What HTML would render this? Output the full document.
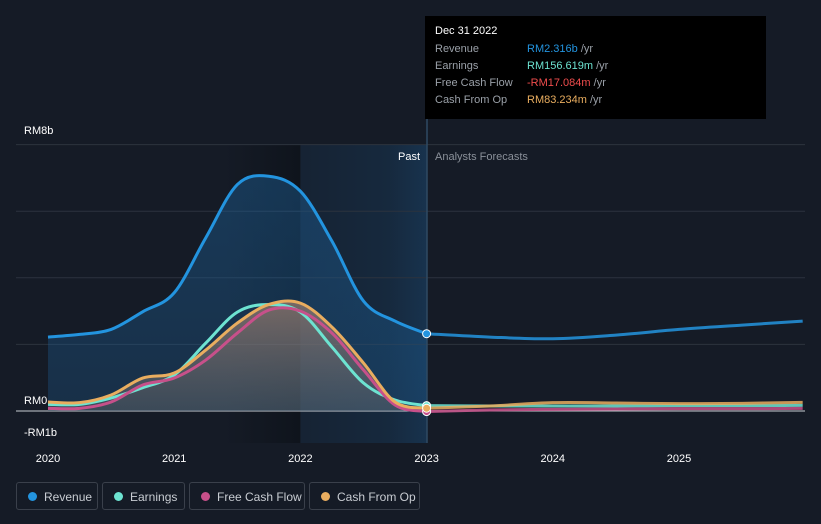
<!DOCTYPE html>
<html><head><meta charset="utf-8"><style>
body{margin:0;background:#151b26;width:821px;height:524px;overflow:hidden;font-family:"Liberation Sans",sans-serif}
.leg{position:absolute;top:482px;height:28px;border:1px solid #3a404b;border-radius:3px;color:#c8ccd2;font-size:12px;line-height:28px;box-sizing:border-box;padding-left:27px}
.leg i{position:absolute;left:11px;top:9px;width:9px;height:9px;border-radius:50%}
</style></head><body>
<svg id="c" width="821" height="524" style="position:absolute;left:0;top:0"></svg>
<div class="leg" style="left:16px;width:82px"><i style="background:#2394df"></i>Revenue</div>
<div class="leg" style="left:102px;width:83px"><i style="background:#6de3d1"></i>Earnings</div>
<div class="leg" style="left:189px;width:116px"><i style="background:#c7508a"></i>Free Cash Flow</div>
<div class="leg" style="left:309px;width:111px"><i style="background:#e9ad5f"></i>Cash From Op</div>
<div style="position:absolute;left:425px;top:16px;width:341px;height:103px;background:#000;font-size:11px;color:#9aa0a8">
<div style="position:absolute;left:10px;top:9px;color:#fff">Dec 31 2022</div>
<div style="position:absolute;left:10px;top:27px">Revenue</div><div style="position:absolute;left:102px;top:27px"><span style="color:#2394df">RM2.316b</span> /yr</div>
<div style="position:absolute;left:10px;top:44px">Earnings</div><div style="position:absolute;left:102px;top:44px"><span style="color:#6de3d1">RM156.619m</span> /yr</div>
<div style="position:absolute;left:10px;top:61px">Free Cash Flow</div><div style="position:absolute;left:102px;top:61px"><span style="color:#f04d4d">-RM17.084m</span> /yr</div>
<div style="position:absolute;left:10px;top:78px">Cash From Op</div><div style="position:absolute;left:102px;top:78px"><span style="color:#e9ad5f">RM83.234m</span> /yr</div>
</div>
<script>
const pastX=[2020,2020.25,2020.5,2020.75,2021,2021.25,2021.5,2021.75,2022,2022.25,2022.5,2022.75,2023];
const revenue=[2.22,2.3,2.45,2.98,3.55,5.2,6.8,7.05,6.6,5.1,3.3,2.7,2.32];
const earnings=[0.2,0.2,0.39,0.7,1.08,2.04,2.97,3.2,2.97,1.92,0.84,0.33,0.16];
const fcf=[0.08,0.08,0.27,0.78,0.99,1.53,2.34,3.03,3.0,2.34,1.23,0.18,-0.017];
const cfo=[0.27,0.25,0.48,0.99,1.14,1.83,2.64,3.2,3.24,2.52,1.44,0.27,0.083];
const fX=[2023,2023.5,2024,2024.5,2025,2025.5,2025.98];
const revF=[2.32,2.22,2.17,2.28,2.45,2.58,2.7];
const earnF=[0.16,0.15,0.15,0.15,0.16,0.16,0.17];
const fcfF=[-0.017,0.03,0.05,0.06,0.07,0.07,0.08];
const cfoF=[0.083,0.15,0.25,0.24,0.22,0.23,0.26];
const yTicks=[8,6,4,2,0];
const xTicks=[2020,2021,2022,2023,2024,2025];
const X=v=>48+(v-2020)*126.2, Y=v=>411-v*33.3;
const s=document.getElementById('c'),NS='http://www.w3.org/2000/svg';
function el(t,a,p){const e=document.createElementNS(NS,t);for(const k in a)e.setAttribute(k,a[k]);(p||s).appendChild(e);return e;}
s.innerHTML='<defs><linearGradient id="pg" x1="0" x2="1"><stop offset="0" stop-color="#1a3a5c" stop-opacity=".25"/><stop offset="0.7" stop-color="#1a4a75" stop-opacity=".3"/><stop offset="1" stop-color="#1a4a75" stop-opacity=".5"/></linearGradient><linearGradient id="hl" x1="0" x2="1"><stop offset="0" stop-color="#0c1118" stop-opacity="0"/><stop offset="1" stop-color="#0c1118" stop-opacity=".7"/></linearGradient><linearGradient id="rf" x1="0" y1="0" x2="0" y2="1"><stop offset="0" stop-color="#1d5f96" stop-opacity=".45"/><stop offset="1" stop-color="#1d5f96" stop-opacity=".3"/></linearGradient><linearGradient id="ef" x1="0" y1="0" x2="0" y2="1"><stop offset="0" stop-color="#a08070" stop-opacity=".7"/><stop offset="1" stop-color="#707070" stop-opacity=".4"/></linearGradient></defs>';
el('rect',{x:X(2021.4),y:145,width:X(2022)-X(2021.4),height:298,fill:'url(#hl)'});
el('rect',{x:X(2022),y:145,width:X(2023)-X(2022),height:298,fill:'url(#pg)'});
yTicks.forEach(t=>{const l=el('line',{x1:16,x2:805,y1:Y(t),y2:Y(t),stroke:t==0?'#c8ccd2':'#2c333e','stroke-width':1});});
function path(xs,ys){const p=xs.map((x,i)=>[X(x),Y(ys[i])]);let d='M'+p[0];for(let i=0;i<p.length-1;i++){const a=p[i-1]||p[i],b=p[i],c=p[i+1],e=p[i+2]||c;d+=`C${b[0]+(c[0]-a[0])/6},${b[1]+(c[1]-a[1])/6} ${c[0]-(e[0]-b[0])/6},${c[1]-(e[1]-b[1])/6} ${c[0]},${c[1]}`;}return d;}
const rp=path(pastX,revenue);
el('path',{d:rp+`L${X(2023)},${Y(0)}L${X(2020)},${Y(0)}Z`,fill:'url(#rf)'});
el('path',{d:path(pastX,cfo)+`L${X(2023)},${Y(0)}L${X(2020)},${Y(0)}Z`,fill:'url(#ef)'});
const ser=[[earnings,earnF,'#6de3d1','earnings'],[fcf,fcfF,'#c7508a','free-cash-flow'],[cfo,cfoF,'#e9ad5f','cash-from-op'],[revenue,revF,'#2394df','revenue']];
ser.forEach(([p,f,c,n])=>{const a=el('path',{d:path(pastX,p),fill:'none',stroke:c,'stroke-width':3});
const b=el('path',{d:path(fX,f),fill:'none',stroke:c,'stroke-width':3,'stroke-opacity':.85});});
el('line',{x1:427,x2:427,y1:16,y2:443,stroke:'#2f4a63','stroke-width':1.5});
ser.forEach(([p,f,c,n])=>{const d=el('circle',{cx:X(2023),cy:Y(p[p.length-1]),r:4,fill:c,stroke:'#fff','stroke-width':1});});
function txt(x,y,t,o){const e=el('text',Object.assign({x:x,y:y,fill:'#fff','font-size':11,'font-family':'Liberation Sans, sans-serif'},o||{}));e.textContent=t;return e;}
[[8,'RM8b',134],[0,'RM0',404],[-1,'-RM1b',436]].forEach(([v,t,y])=>{const e=txt(24,y,t);});
xTicks.forEach(t=>{const e=txt(X(t),462,t,{'text-anchor':'middle'});});
txt(420,160,'Past',{'text-anchor':'end'});
txt(435,160,'Analysts Forecasts',{fill:'#8a9099'});
</script>
</body></html>
